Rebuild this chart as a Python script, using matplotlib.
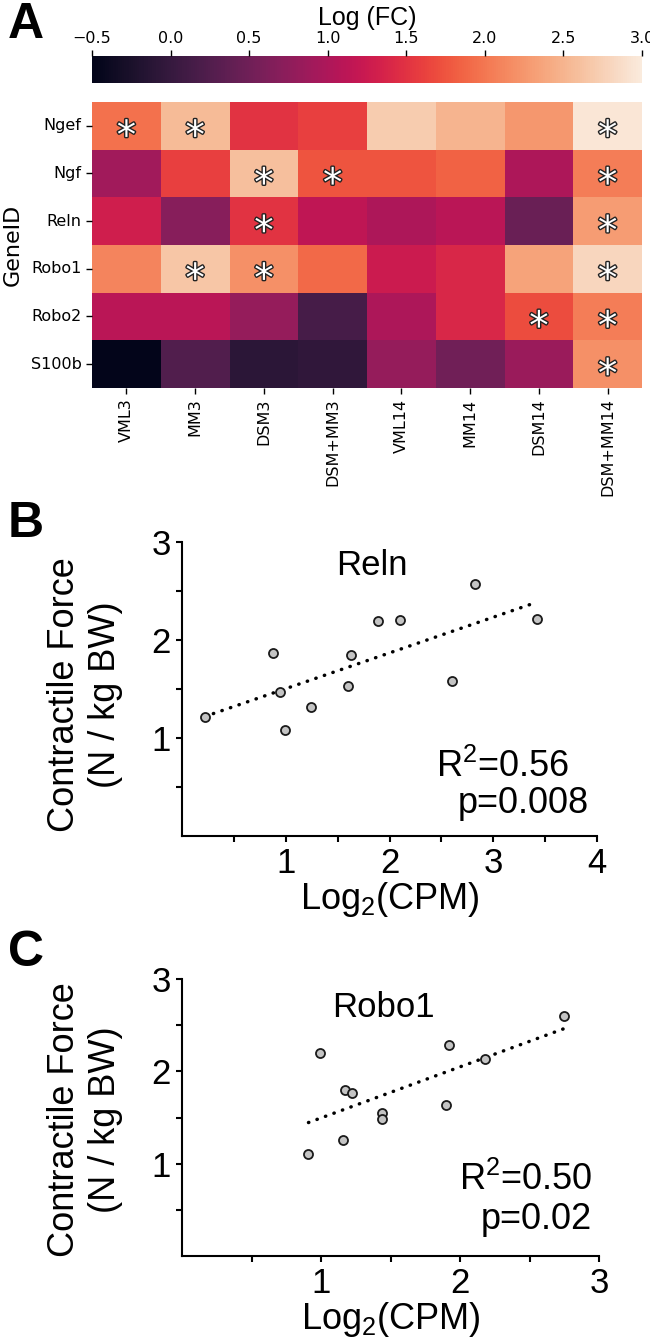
import numpy as np
import matplotlib
matplotlib.use("Agg")
import matplotlib.pyplot as plt
import matplotlib.patheffects as pe
import seaborn as sns

# heatmap data
genes = ["Ngef", "Ngf", "Reln", "Robo1", "Robo2", "S100b"]
groups = ["VML3", "MM3", "DSM3", "DSM+MM3", "VML14", "MM14", "DSM14", "DSM+MM14"]
logfc = [
    [1.95, 2.55, 1.50, 1.60, 2.70, 2.50, 2.25, 2.95],
    [0.90, 1.60, 2.60, 1.75, 1.75, 1.85, 1.00, 2.05],
    [1.30, 0.70, 1.50, 1.15, 1.00, 1.10, 0.45, 2.30],
    [2.10, 2.65, 2.20, 1.90, 1.25, 1.40, 2.35, 2.80],
    [1.10, 1.10, 0.80, 0.15, 1.00, 1.40, 1.70, 2.05],
    [-0.50, 0.25, -0.10, -0.05, 0.80, 0.50, 0.85, 2.20],
]
# significant cells (row, col)
signif = [(0, 0), (0, 1), (0, 7), (1, 2), (1, 3), (1, 7), (2, 2), (2, 7),
          (3, 1), (3, 2), (3, 7), (4, 6), (4, 7), (5, 7)]

# scatter data
reln_x = [0.22, 0.88, 0.94, 0.99, 1.24, 1.60, 1.63, 1.89, 2.10, 2.60, 2.82, 3.42]
reln_y = [1.21, 1.87, 1.47, 1.08, 1.32, 1.53, 1.85, 2.19, 2.20, 1.58, 2.57, 2.21]
robo1_x = [0.91, 0.99, 1.16, 1.17, 1.22, 1.44, 1.44, 1.90, 1.92, 2.18, 2.75]
robo1_y = [1.10, 2.20, 1.26, 1.80, 1.77, 1.55, 1.48, 1.63, 2.29, 2.13, 2.60]

plt.rcParams["mathtext.fontset"] = "custom"
plt.rcParams["mathtext.rm"] = "Liberation Sans"
plt.rcParams["mathtext.it"] = "Liberation Sans:italic"
arial = "Liberation Sans"

fig = plt.figure(figsize=(6.5, 13.43), dpi=100)
W, H = 650, 1343


def box(x0, y0, x1, y1):
    return [x0 / W, 1 - y1 / H, (x1 - x0) / W, (y1 - y0) / H]


# ---- panel A
ax_cb = fig.add_axes(box(92, 56, 642, 83))
ax_hm = fig.add_axes(box(92, 102, 642, 388))
cmap = sns.color_palette("rocket", as_cmap=True)
sns.heatmap(np.array(logfc), ax=ax_hm, cbar_ax=ax_cb, cmap=cmap, vmin=-0.5, vmax=3.0,
            xticklabels=groups, yticklabels=genes,
            cbar_kws={"orientation": "horizontal"})
ax_hm.tick_params(axis="both", labelsize=11.5, length=4, width=1)
ax_hm.set_yticklabels(genes, rotation=0)
ax_hm.set_xticklabels(groups, rotation=90)
ax_hm.set_ylabel("GeneID", fontsize=16, labelpad=6)
for r, c in signif:
    ax_hm.annotate("*", xy=(c + 0.5, r + 0.5), xytext=(0, -16), textcoords="offset points",
                   ha="center", va="baseline", fontsize=28, color="white",
                   path_effects=[pe.withStroke(linewidth=2, foreground="#222222")])

ax_cb.xaxis.set_ticks_position("top")
ax_cb.xaxis.set_label_position("top")
ax_cb.set_xticks([-0.5, 0.0, 0.5, 1.0, 1.5, 2.0, 2.5, 3.0])
ax_cb.tick_params(labelsize=11.5, length=4, width=1)
ax_cb.set_xlabel("Log (FC)", fontsize=18, family=arial, labelpad=4)
for s in ax_cb.spines.values():
    s.set_visible(False)

fig.text(8 / W, 1 - 25 / H, "A", fontsize=36, fontweight="bold", family=arial, va="center")
fig.text(8 / W, 1 - 524 / H, "B", fontsize=36, fontweight="bold", family=arial, va="center")
fig.text(8 / W, 1 - 953 / H, "C", fontsize=36, fontweight="bold", family=arial, va="center")


def scatter_panel(ax, x, y, xmax, gene, gpos, r2, r2pos, pv, ppos):
    ax.plot(x, y, "o", markersize=6.5, markerfacecolor="#c4c4c4",
            markeredgecolor="#1a1a1a", markeredgewidth=1.3, zorder=3)
    k, b = np.polyfit(x, y, 1)
    xs = np.array([min(x), max(x)])
    ax.plot(xs, k * xs + b, color="black", lw=2.5, linestyle=(0, (0.1, 2.5)),
            dash_capstyle="round", zorder=2)
    ax.set_xlim(0, xmax)
    ax.set_ylim(0, 3)
    ax.set_xticks(np.arange(0.5, xmax + 0.01, 0.5))
    ax.set_xticklabels(["" if v % 1 else str(int(v)) for v in np.arange(0.5, xmax + 0.01, 0.5)])
    ax.set_yticks([0.5, 1, 1.5, 2, 2.5, 3])
    ax.set_yticklabels(["", "1", "", "2", "", "3"])
    ax.tick_params(direction="out", length=4, width=1.5, labelsize=25, pad=4)
    for lab in ax.get_xticklabels() + ax.get_yticklabels():
        lab.set_family(arial)
    for s in ["top", "right"]:
        ax.spines[s].set_visible(False)
    for s in ["left", "bottom"]:
        ax.spines[s].set_linewidth(1.5)
    ax.text(gpos[0], gpos[1], gene, fontsize=25, family=arial, ha="center", va="baseline")
    ax.text(r2pos[0], r2pos[1], r2, fontsize=26, family=arial, ha="right", va="baseline")
    ax.text(ppos[0], ppos[1], pv, fontsize=26, family=arial, ha="right", va="baseline")
    ax.set_xlabel(r"Log$_2$(CPM)", fontsize=26, family=arial, labelpad=0)


ax_b = fig.add_axes(box(182, 542, 597, 836))
scatter_panel(ax_b, reln_x, reln_y, 4, "Reln", (1.83, 2.66),
              r"R$^2$=0.56", (3.73, 0.60), "p=0.008", (3.92, 0.235))
ax_c = fig.add_axes(box(182, 979, 599, 1256))
scatter_panel(ax_c, robo1_x, robo1_y, 3, "Robo1", (1.45, 2.59),
              r"R$^2$=0.50", (2.95, 0.71), "p=0.02", (2.95, 0.29))

ylab = "Contractile Force\n(N / kg BW)"
fig.text(85 / W, 1 - 695 / H, ylab, rotation=90, ha="center", va="center",
         fontsize=26, family=arial, linespacing=1.2)
fig.text(85 / W, 1 - 1120 / H, ylab, rotation=90, ha="center", va="center",
         fontsize=26, family=arial, linespacing=1.2)

fig.savefig("out.png", dpi=100)
